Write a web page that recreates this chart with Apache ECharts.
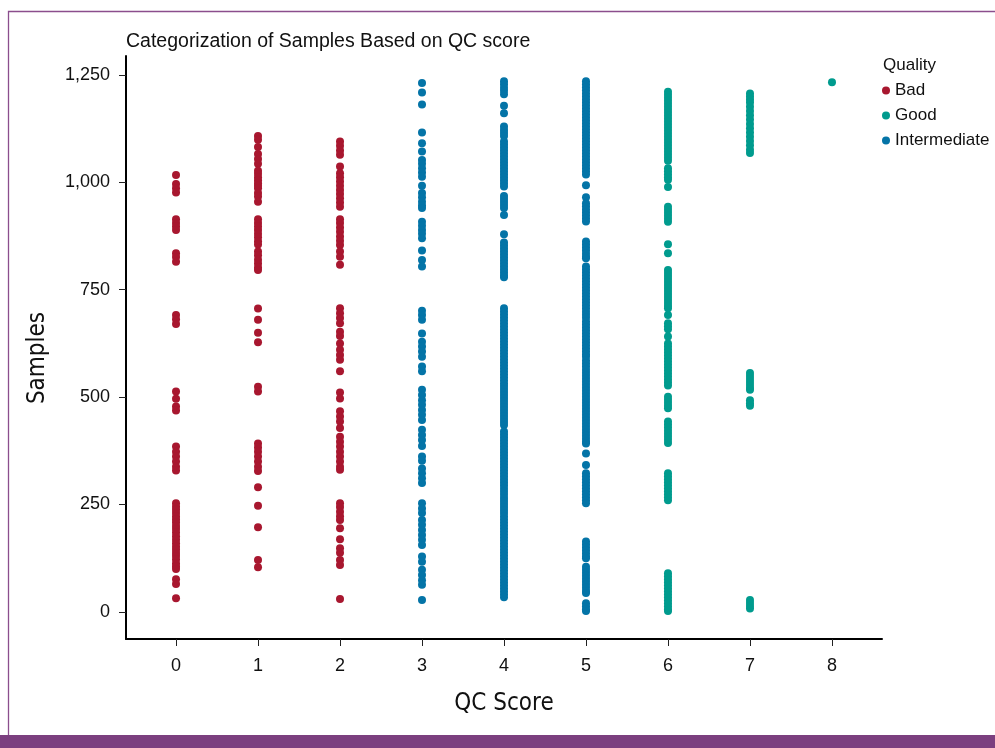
<!DOCTYPE html>
<html>
<head>
<meta charset="utf-8">
<title>Categorization of Samples Based on QC score</title>
<script src="https://cdn.jsdelivr.net/npm/echarts@6/dist/echarts.min.js"></script>
<style>
  html, body { margin: 0; padding: 0; background: #ffffff; }
  #chart { width: 995px; height: 748px; }
</style>
</head>
<body>
<div id="chart"></div>
<script>
// Sample indices grouped by QC score, one array per score
const bad0 = [1017, 996, 986, 976, 914, 905, 897, 889, 835, 826, 815, 691, 681, 670,
  513, 496, 478, 469, 385, 373, 362, 350, 338, 329,
  253, 245, 238, 230, 222, 215, 208, 200, 193, 185, 176, 168, 160, 152, 145, 137, 130, 122, 113, 106, 100,
  76, 65, 32];
const bad1 = [1108, 1099, 1082, 1066, 1054, 1043, 1027, 1020, 1012, 1005, 998, 992, 986, 975, 967, 955,
  914, 905, 897, 889, 880, 872, 863, 855, 839, 830, 820, 811, 802, 796,
  706, 680, 650, 628, 524, 513, 392, 383, 373, 362, 350, 338, 328, 290, 247, 197, 121, 104];
const bad2 = [1095, 1085, 1074, 1064, 1037, 1021, 1012, 1002, 992, 982, 973, 963, 953, 943,
  914, 905, 895, 885, 874, 864, 854, 839, 827, 808,
  707, 695, 684, 672, 652, 642, 625, 610, 598, 587, 560, 511, 497, 467, 455, 443, 428,
  408, 396, 385, 373, 362, 350, 338, 331, 253, 244, 233, 223, 214, 195, 169, 148, 138, 121, 109, 30];
const inter3 = [1231, 1209, 1181, 1116, 1091, 1072, 1052, 1043, 1033, 1023, 1013, 992,
  975, 965, 955, 946, 940, 908, 899, 889, 880, 870, 841, 819, 804,
  701, 691, 680, 648, 629, 618, 606, 594, 571, 560,
  517, 505, 493, 482, 470, 459, 447, 424, 412, 400, 386, 362, 352, 334, 323, 311, 300,
  253, 241, 230, 214, 203, 191, 179, 168, 156, 129, 117, 98, 86, 74, 63, 28];
const inter4 = [1235, 1228, 1220, 1213, 1205, 1178, 1161, 1130, 1122, 1115, 1108,
  1095, 1088, 1081, 1074, 1067, 1060, 1053, 1046, 1039, 1032, 1025, 1018, 1011, 1004, 997, 990,
  968, 961, 954, 947, 940, 924, 879,
  860, 853, 846, 839, 832, 825, 818, 811, 804, 797, 790, 783, 779,
  707, 700, 693, 686, 679, 672, 665, 658, 651, 644, 637, 630, 623, 616, 609, 602, 595, 588, 581,
  574, 567, 560, 553, 546, 539, 532,
  526, 519, 512, 505, 498, 491, 484, 477, 470, 463, 456, 449, 442, 435,
  420, 413, 406, 399, 392, 385, 378, 371, 364, 357, 350, 343, 336, 329, 322, 315, 308, 301, 294,
  287, 280, 273,
  265, 258, 251, 244, 237, 230, 223, 216, 209, 202, 195, 188, 181, 174, 167, 160, 153, 146, 139,
  132, 125, 118, 111, 104, 97, 90, 83, 76, 69, 62, 55, 48, 41, 34];
const inter5 = [1235, 1228, 1221, 1214, 1207, 1200, 1193, 1186, 1179, 1172, 1165, 1158, 1151, 1144,
  1137, 1130, 1123, 1116, 1109, 1102, 1095, 1088, 1081, 1074, 1067, 1060, 1053, 1046, 1039, 1032,
  1025, 1018, 993, 965, 951, 944, 937, 930, 923, 916, 909,
  862, 855, 848, 841, 834, 827, 823,
  804, 797, 790, 783, 776, 769, 762, 755, 748, 741, 734, 727, 720, 713, 706, 699, 692, 685,
  676, 669, 662, 655, 648, 641, 634, 627, 620, 613, 606, 599, 594,
  585, 578, 571, 564, 557, 550, 543, 536, 529, 522, 515, 508, 501, 494, 487, 480, 473, 466, 459,
  452, 445, 438, 431, 424, 417, 410, 403, 396, 392, 369, 342,
  323, 316, 309, 302, 295, 288, 281, 274, 267, 260, 253,
  164, 157, 150, 143, 136, 129, 125, 105, 98, 91, 84, 77, 70, 63, 56, 49, 44, 20, 13, 6, 2];
const good6 = [1211, 1204, 1197, 1190, 1183, 1176, 1169, 1162, 1155, 1148, 1141, 1134, 1127, 1120,
  1113, 1106, 1099, 1092, 1085, 1078, 1071, 1064, 1057, 1050, 1033, 1026, 1019, 1012, 1006, 989,
  943, 936, 929, 922, 915, 908, 856, 835,
  796, 789, 782, 775, 768, 761, 754, 747, 740, 733, 726, 719, 712, 707, 691, 672, 665, 658, 641,
  625, 618, 611, 604, 597, 590, 583, 576, 569, 562, 555, 548, 541, 534, 527,
  501, 494, 487, 480, 474, 443, 436, 429, 422, 415, 408, 401, 393,
  323, 316, 309, 302, 295, 288, 281, 274, 267, 260,
  90, 83, 76, 69, 62, 55, 48, 41, 34, 27, 20, 13, 6, 2];
const good7 = [1207, 1200, 1193, 1186, 1176, 1166, 1156, 1146, 1136, 1126, 1116, 1106, 1096, 1086,
  1076, 1068, 556, 549, 542, 535, 528, 521, 517, 493, 486, 480, 28, 21, 14, 8];
const good8 = [1233];

const xTicks = [0, 1, 2, 3, 4, 5, 6, 7, 8];
const yTicks = [0, 250, 500, 750, 1000, 1250];
const qualityNames = ['Bad', 'Good', 'Intermediate'];
const qualityColors = ['#a8172f', '#009b8e', '#0474a7'];

const pairs = (score, list) => list.map(v => [score, v]);
const badData = [].concat(pairs(0, bad0), pairs(1, bad1), pairs(2, bad2));
const goodData = [].concat(pairs(6, good6), pairs(7, good7), pairs(8, good8));
const interData = [].concat(pairs(3, inter3), pairs(4, inter4), pairs(5, inter5));

const chart = echarts.init(document.getElementById('chart'), null, { renderer: 'canvas' });
const baseFont = 'Liberation Sans, Arial, Helvetica, sans-serif';
const condFont = '"Liberation Sans Narrow", "DejaVu Sans Condensed", "Roboto Condensed", sans-serif';

const axisCommon = {
  type: 'value',
  splitLine: { show: false },
  axisLine: { show: true, onZero: false, lineStyle: { color: '#000', width: 2 } },
  axisTick: { show: true, length: 7, lineStyle: { color: '#222', width: 1 } },
  axisLabel: { color: '#111', fontSize: 18, fontFamily: baseFont }
};

chart.setOption({
  animation: false,
  backgroundColor: '#ffffff',
  color: qualityColors,
  title: {
    text: 'Categorization of Samples Based on QC score',
    left: 121, top: 27,
    textStyle: { fontSize: 19.5, fontWeight: 'normal', color: '#111', fontFamily: baseFont }
  },
  legend: {
    data: qualityNames,
    orient: 'vertical',
    left: 877, top: 77,
    icon: 'circle',
    itemWidth: 8, itemHeight: 8, itemGap: 8, itemTextGap: 6,
    textStyle: { fontSize: 17, color: '#111', fontFamily: baseFont }
  },
  grid: { left: 126, top: 56, width: 756, height: 583, containLabel: false, outerBoundsMode: 'none' },
  xAxis: Object.assign({}, axisCommon, {
    min: -0.61, max: 8.61,
    axisTick: Object.assign({}, axisCommon.axisTick, { customValues: xTicks }),
    axisLabel: Object.assign({}, axisCommon.axisLabel, { customValues: xTicks, margin: 18 })
  }),
  yAxis: Object.assign({}, axisCommon, {
    min: -63, max: 1294,
    axisTick: Object.assign({}, axisCommon.axisTick, { customValues: yTicks }),
    axisLabel: Object.assign({}, axisCommon.axisLabel, {
      customValues: yTicks, margin: 16,
      formatter: v => v.toLocaleString('en-US')
    })
  }),
  series: [
    { name: 'Bad', type: 'scatter', symbolSize: 8, data: badData, itemStyle: { color: qualityColors[0], opacity: 1 } },
    { name: 'Good', type: 'scatter', symbolSize: 8, data: goodData, itemStyle: { color: qualityColors[1], opacity: 1 } },
    { name: 'Intermediate', type: 'scatter', symbolSize: 8, data: interData, itemStyle: { color: qualityColors[2], opacity: 1 } }
  ],
  graphic: [
    // page frame: thin purple outline and a solid band along the bottom
    { type: 'rect', silent: true, shape: { x: 8.5, y: 11.5, width: 1000, height: 730 },
      style: { fill: 'none', stroke: '#8b4e8d', lineWidth: 1.3 } },
    { type: 'rect', silent: true, shape: { x: 0, y: 735, width: 995, height: 13 },
      style: { fill: '#7b3f7f' } },
    // axis titles
    { type: 'text', silent: true, x: 38, y: 358, rotation: Math.PI / 2,
      style: { text: 'Samples', fontSize: 24, fontFamily: condFont, fill: '#111',
        align: 'center', verticalAlign: 'middle' } },
    { type: 'text', silent: true, x: 504, y: 704,
      style: { text: 'QC Score', fontSize: 24, fontFamily: condFont, fill: '#111',
        align: 'center', verticalAlign: 'middle' } },
    // legend heading
    { type: 'text', silent: true, x: 883, y: 65,
      style: { text: 'Quality', fontSize: 17, fontFamily: baseFont, fill: '#111',
        align: 'left', verticalAlign: 'middle' } }
  ]
});
</script>
</body>
</html>
